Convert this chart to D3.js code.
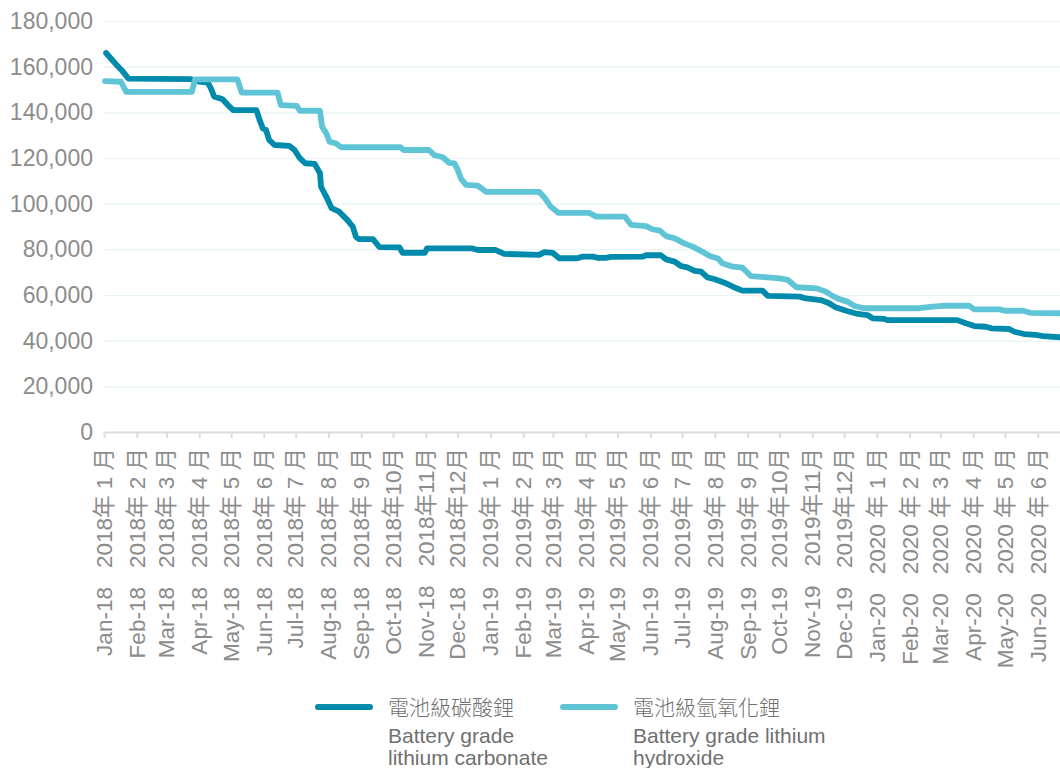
<!DOCTYPE html>
<html>
<head>
<meta charset="utf-8">
<script src="https://cdn.jsdelivr.net/npm/d3@7"></script>
<style>
  html, body { margin: 0; padding: 0; background: #ffffff; }
  svg { display: block; }
  text { font-family: "Liberation Sans", "Noto Sans CJK TC", sans-serif; }
</style>
</head>
<body>
<svg id="chart" width="1060" height="768"></svg>
<script>
// Battery grade lithium carbonate, price per tonne
const carbonate = [
  ["2018-01-03", 166000], ["2018-01-13", 160700], ["2018-01-19", 157800], ["2018-01-24", 154800],
  ["2018-03-24", 154500], ["2018-04-01", 153400], ["2018-04-09", 153000], ["2018-04-12", 150500],
  ["2018-04-15", 146900], ["2018-04-23", 145700], ["2018-04-28", 143200], ["2018-05-03", 141000],
  ["2018-05-25", 141000], ["2018-05-28", 136600], ["2018-05-31", 133000], ["2018-06-03", 132300],
  ["2018-06-06", 127900], ["2018-06-11", 125700], ["2018-06-25", 125300], ["2018-06-30", 123500],
  ["2018-07-05", 119900], ["2018-07-10", 117700], ["2018-07-19", 117400], ["2018-07-24", 113300],
  ["2018-07-25", 107400], ["2018-07-30", 103000], ["2018-08-04", 98000], ["2018-08-11", 96500],
  ["2018-08-19", 92800], ["2018-08-24", 89900], ["2018-08-27", 85500], ["2018-08-30", 84500],
  ["2018-09-12", 84500], ["2018-09-18", 81000], ["2018-10-07", 80900], ["2018-10-10", 78500],
  ["2018-10-31", 78500], ["2018-11-02", 80400], ["2018-12-15", 80400], ["2018-12-20", 79700],
  ["2019-01-06", 79700], ["2019-01-14", 78000], ["2019-02-16", 77600], ["2019-02-21", 78800],
  ["2019-03-01", 78400], ["2019-03-07", 76100], ["2019-03-24", 76100], ["2019-03-29", 76800],
  ["2019-04-08", 76800], ["2019-04-12", 76300], ["2019-04-20", 76300], ["2019-04-25", 76700],
  ["2019-05-25", 76800], ["2019-05-28", 77400], ["2019-06-11", 77400], ["2019-06-16", 75600],
  ["2019-06-24", 74600], ["2019-06-30", 72700], ["2019-07-06", 72100], ["2019-07-13", 70600],
  ["2019-07-19", 70200], ["2019-07-25", 67700], ["2019-08-01", 66900], ["2019-08-10", 65400],
  ["2019-08-19", 63400], ["2019-08-27", 61900], ["2019-09-15", 61900], ["2019-09-20", 59600],
  ["2019-10-20", 59300], ["2019-10-26", 58500], ["2019-11-09", 57800], ["2019-11-17", 56400],
  ["2019-11-23", 54600], ["2019-12-03", 53100], ["2019-12-14", 51700], ["2019-12-23", 51200],
  ["2019-12-28", 49800], ["2020-01-08", 49500], ["2020-01-11", 49000], ["2020-03-17", 49000],
  ["2020-03-25", 47600], ["2020-04-02", 46400], ["2020-04-13", 46100], ["2020-04-18", 45400],
  ["2020-05-05", 45100], ["2020-05-10", 43900], ["2020-05-19", 42900], ["2020-05-30", 42500],
  ["2020-06-06", 42000], ["2020-06-22", 41500]
];

// Battery grade lithium hydroxide, price per tonne
const hydroxide = [
  ["2018-01-02", 153700], ["2018-01-17", 153400], ["2018-01-22", 149000], ["2018-03-25", 149000],
  ["2018-03-28", 154400], ["2018-05-07", 154400], ["2018-05-11", 148600], ["2018-06-14", 148600],
  ["2018-06-17", 143200], ["2018-07-02", 142800], ["2018-07-05", 140700], ["2018-07-24", 140700],
  ["2018-07-26", 133700], ["2018-07-30", 130800], ["2018-08-02", 127100], ["2018-08-08", 126400],
  ["2018-08-13", 124700], ["2018-10-08", 124700], ["2018-10-11", 123500], ["2018-11-04", 123500],
  ["2018-11-09", 121300], ["2018-11-17", 120300], ["2018-11-23", 117900], ["2018-11-28", 117600],
  ["2018-12-01", 115000], ["2018-12-04", 111100], ["2018-12-09", 108200], ["2018-12-20", 107900],
  ["2018-12-28", 105200], ["2019-02-16", 105200], ["2019-02-21", 102700], ["2019-02-27", 98700],
  ["2019-03-06", 96000], ["2019-04-04", 96000], ["2019-04-11", 94300], ["2019-05-08", 94300],
  ["2019-05-14", 90700], ["2019-05-28", 90200], ["2019-06-03", 88800], ["2019-06-10", 88200],
  ["2019-06-16", 85800], ["2019-06-24", 84800], ["2019-07-03", 82600], ["2019-07-11", 81200],
  ["2019-07-20", 79000], ["2019-07-27", 77100], ["2019-08-04", 76000], ["2019-08-08", 73900],
  ["2019-08-18", 72400], ["2019-08-27", 72000], ["2019-09-04", 68300], ["2019-09-20", 67700],
  ["2019-10-01", 67300], ["2019-10-09", 66600], ["2019-10-17", 63400], ["2019-11-05", 62900],
  ["2019-11-14", 61400], ["2019-11-20", 59600], ["2019-11-27", 58100], ["2019-12-04", 57100],
  ["2019-12-11", 55200], ["2019-12-20", 54200], ["2020-02-10", 54200], ["2020-02-23", 54900],
  ["2020-03-06", 55300], ["2020-03-28", 55300], ["2020-04-02", 53700], ["2020-04-26", 53700],
  ["2020-05-01", 53100], ["2020-05-18", 53100], ["2020-05-25", 52200], ["2020-06-22", 52000]
];

const yTicks = [0, 20000, 40000, 60000, 80000, 100000, 120000, 140000, 160000, 180000];

const monthLabelsEn = [
  "Jan-18", "Feb-18", "Mar-18", "Apr-18", "May-18", "Jun-18", "Jul-18", "Aug-18", "Sep-18", "Oct-18", "Nov-18", "Dec-18",
  "Jan-19", "Feb-19", "Mar-19", "Apr-19", "May-19", "Jun-19", "Jul-19", "Aug-19", "Sep-19", "Oct-19", "Nov-19", "Dec-19",
  "Jan-20", "Feb-20", "Mar-20", "Apr-20", "May-20", "Jun-20"
];
const monthLabelsZh = [
  "2018年 1 月", "2018年 2 月", "2018年 3 月", "2018年 4 月", "2018年 5 月", "2018年 6 月",
  "2018年 7 月", "2018年 8 月", "2018年 9 月", "2018年10月", "2018年11月", "2018年12月",
  "2019年 1 月", "2019年 2 月", "2019年 3 月", "2019年 4 月", "2019年 5 月", "2019年 6 月",
  "2019年 7 月", "2019年 8 月", "2019年 9 月", "2019年10月", "2019年11月", "2019年12月",
  "2020 年 1 月", "2020 年 2 月", "2020 年 3 月", "2020 年 4 月", "2020 年 5 月", "2020 年 6 月"
];

const seriesNamesZh = ["電池級碳酸鋰", "電池級氫氧化鋰"];
const seriesNamesEn = [["Battery grade", "lithium carbonate"], ["Battery grade lithium", "hydroxide"]];
const seriesColors = ["#008aab", "#5fc5d6"];

const parse = d3.timeParse("%Y-%m-%d");
const svg = d3.select("#chart");

const plotLeft = 104, plotRight = 1060, plotTop = 21, plotBottom = 432;
const textGray = "#8c8c8c";

const x = d3.scaleTime()
  .domain([parse("2018-01-01"), parse("2020-06-22")])
  .range([plotLeft, plotRight]);
const y = d3.scaleLinear()
  .domain([0, 180000])
  .range([plotBottom, plotTop]);

// horizontal grid
const grid = svg.append("g")
  .attr("transform", `translate(${plotLeft},0)`)
  .call(d3.axisLeft(y).tickValues(yTicks.filter(v => v > 0)).tickSize(-(plotRight - plotLeft)).tickFormat(""));
grid.select(".domain").remove();
grid.selectAll("line").attr("stroke", "#e9f4f6").attr("stroke-width", 1.2);

// y axis labels
const yAxis = svg.append("g")
  .attr("transform", `translate(${plotLeft},0)`)
  .call(d3.axisLeft(y).tickValues(yTicks).tickSize(0).tickPadding(11).tickFormat(d3.format(",")));
yAxis.select(".domain").remove();
yAxis.selectAll("text")
  .attr("font-size", 23)
  .attr("fill", textGray)
  .style("font-family", '"Liberation Sans", sans-serif');

// x axis with month ticks
const monthTicks = d3.timeMonth.range(parse("2018-01-01"), parse("2020-07-01"));
const xAxis = svg.append("g")
  .attr("transform", `translate(0,${plotBottom})`)
  .call(d3.axisBottom(x).tickValues(monthTicks).tickSize(6).tickSizeOuter(0).tickFormat(""));
xAxis.select(".domain").attr("stroke", "#dddddd").attr("stroke-width", 2);
xAxis.selectAll(".tick line").attr("stroke", "#dddddd").attr("stroke-width", 2);

// rotated bilingual month labels
const labels = svg.append("g");
monthTicks.forEach((d, i) => {
  const t = labels.append("text")
    .attr("transform", `translate(${x(d)},${plotBottom + 16}) rotate(-90)`)
    .attr("text-anchor", "end")
    .attr("dy", "0.35em")
    .attr("font-size", 22.5)
    .attr("fill", textGray);
  t.append("tspan").text(monthLabelsEn[i]);
  t.append("tspan").attr("dx", 19).text(monthLabelsZh[i]);
});

// price lines
const line = d3.line()
  .x(d => x(parse(d[0])))
  .y(d => y(d[1]))
  .curve(d3.curveLinear);

[carbonate, hydroxide].forEach((series, i) => {
  svg.append("path")
    .datum(series)
    .attr("fill", "none")
    .attr("stroke", seriesColors[i])
    .attr("stroke-width", 5.8)
    .attr("stroke-linejoin", "round")
    .attr("stroke-linecap", "round")
    .attr("d", line);
});

// legend
const legendX = [318, 563];
seriesNamesZh.forEach((name, i) => {
  const g = svg.append("g").attr("transform", `translate(${legendX[i]},0)`);
  g.append("line")
    .attr("x1", 0).attr("x2", 52)
    .attr("y1", 707).attr("y2", 707)
    .attr("stroke", seriesColors[i])
    .attr("stroke-width", 6)
    .attr("stroke-linecap", "round");
  g.append("text")
    .attr("x", 70).attr("y", 715)
    .attr("font-size", 21)
    .attr("fill", "#707070")
    .style("font-family", '"Noto Sans CJK TC", sans-serif')
    .style("font-weight", 300)
    .text(name);
  seriesNamesEn[i].forEach((ln, j) => {
    g.append("text")
      .attr("x", 70).attr("y", 743 + j * 22)
      .attr("font-size", 21)
      .attr("fill", "#707070")
      .text(ln);
  });
});
</script>
</body>
</html>
